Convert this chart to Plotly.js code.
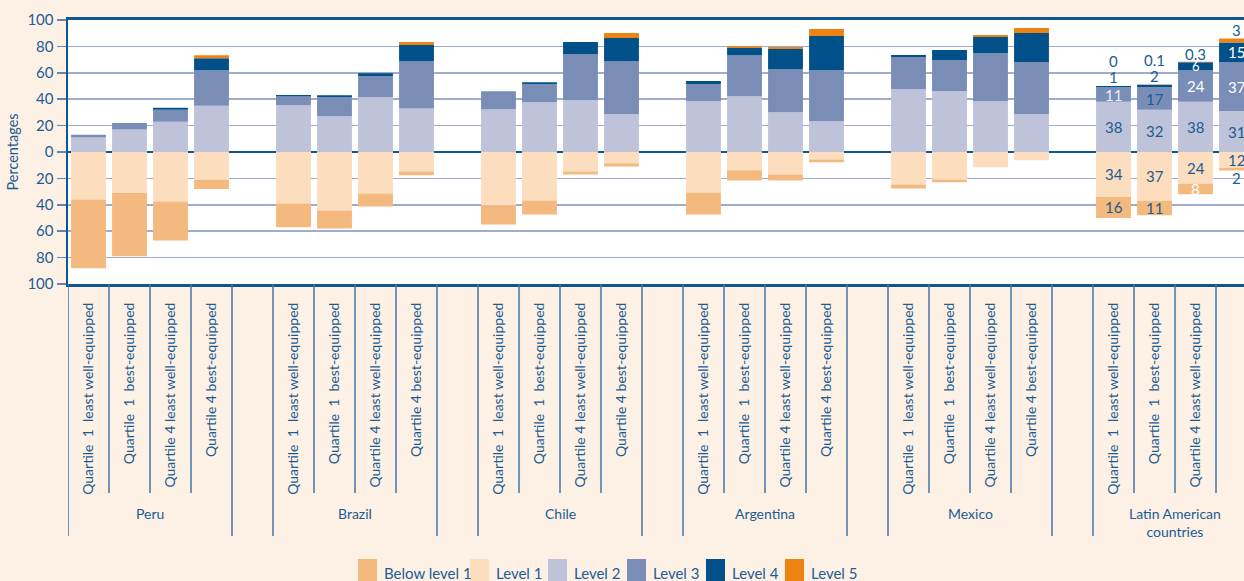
<!DOCTYPE html>
<html><head><meta charset="utf-8">
<script src="https://cdn.plot.ly/plotly-3.0.1.min.js"></script>
<style>html,body{margin:0;padding:0;background:#FDF1E6;overflow:hidden}</style>
</head><body><div id="chart" style="width:1244px;height:581px"></div>
<script>
// ---------------- DATA ----------------
const countries = ['Peru', 'Brazil', 'Chile', 'Argentina', 'Mexico', 'Latin American<br>countries'];
const quartiles = ['Quartile  1  least well-equipped', 'Quartile  1  best-equipped',
                   'Quartile 4 least well-equipped', 'Quartile 4 best-equipped'];
const levels = ['Below level 1', 'Level 1', 'Level 2', 'Level 3', 'Level 4', 'Level 5'];
// one value per bar: Peru(4), Brazil(4), Chile(4), Argentina(4), Mexico(4), Latin America(4)
const belowLevel1 = [52, 48, 29.6, 7,   18, 13.7, 9.9, 3,   14.4, 10.6, 2.3, 2.3,   16.7, 7.6, 4.5, 2.2,   3, 2.2, 0, 0,     16, 11, 8, 2];
const level1      = [36, 31, 37.5, 21,  39, 44.3, 31.4, 14.7, 40.5, 36.7, 14.7, 8.6, 30.6, 13.9, 17, 5.6,  24.6, 20.8, 11.6, 6.3, 34, 37, 24, 12];
const level2      = [11, 17, 23, 35,    35.5, 27, 41.5, 33,  32.4, 37.7, 39.2, 28.6, 38.5, 42.3, 30.1, 23.3, 47.6, 46.1, 38.5, 28.6, 38, 32, 38, 31];
const level3      = [2, 5, 9, 27,       6.5, 14.7, 16, 36,   13.7, 13.7, 35, 40.3,  12.9, 31.1, 32.7, 38.7, 24.3, 23.5, 36.4, 39.5, 11, 17, 24, 37];
const level4      = [0, 0, 1.5, 9,      1.2, 1.3, 2.2, 12,   0, 1.5, 9.1, 17.4,    2.3, 5.3, 15.2, 25.8, 1.5, 7.6, 12.2, 22,   1, 2, 6, 15];
const level5      = [0, 0, 0, 2.3,      0, 0, 0, 2.3,        0, 0, 0, 3.8,         0, 1.5, 1.5, 5.4,    0, 0, 1.5, 3.8,      0, 0.1, 0.3, 3];
const yTickVals = [-100, -80, -60, -40, -20, 0, 20, 40, 60, 80, 100];
const yTickText = ['100', '80', '60', '40', '20', '0', '20', '40', '60', '80', '100'];

// ---------------- STYLE ----------------
const colors = ['#F4B97F', '#FCDDBE', '#BEC3D9', '#7A8DB6', '#01508A', '#EC8312'];
const blue = '#1B5C93';
const axisBlue = '#0E5791';
const font = 'Lato, "Open Sans", sans-serif';
const W = 1244, H = 581, ML = 68, MT = 20, PB = 284;   // plot area pixels
const slot = 41;                                       // px per category slot
const plotW = W - ML, plotH = PB - MT;
const px2x = px => (px - ML) / plotW;
const px2y = py => (PB - py) / plotH;

// x positions: 4 bars per country, then an empty slot
const xs = [];
countries.forEach((c, g) => quartiles.forEach((q, i) => xs.push(g * 5 + i)));
const tickText = [];
countries.forEach(() => quartiles.forEach(q => tickText.push(q)));

const series = [level1.map(v => -v), belowLevel1.map(v => -v), level2, level3, level4, level5];
const order = [1, 0, 2, 3, 4, 5];
const traces = series.map((vals, k) => ({
  type: 'bar', x: xs, y: vals, name: levels[order[k]], width: 0.85,
  marker: {color: colors[order[k]], line: {width: 0}},
  hoverinfo: 'skip', showlegend: false
}));

// ---------------- SHAPES: dividers below axis ----------------
const shapes = [];
countries.forEach((c, g) => {
  const b = g * 5;
  [b - 0.5, b + 3.5].forEach(xv => shapes.push({type: 'line', xref: 'x', yref: 'paper', x0: xv, x1: xv,
    y0: 0, y1: px2y(536), line: {color: '#3F74A4', width: 1.5}}));
  [b + 0.5, b + 1.5, b + 2.5].forEach(xv => shapes.push({type: 'line', xref: 'x', yref: 'paper', x0: xv, x1: xv,
    y0: 0, y1: px2y(493), line: {color: '#3F74A4', width: 1.5}}));
});

// ---------------- LEGEND (custom) ----------------
const legendSwatchX = [358, 470, 548, 627, 706, 785];
const annotations = [];
levels.forEach((lv, i) => {
  shapes.push({type: 'rect', xref: 'paper', yref: 'paper', x0: px2x(legendSwatchX[i]), x1: px2x(legendSwatchX[i] + 19),
    y0: px2y(559), y1: px2y(590), fillcolor: colors[i], line: {width: 0}});
  annotations.push({xref: 'paper', yref: 'paper', x: px2x(legendSwatchX[i] + 24), y: px2y(573), xanchor: 'left', yanchor: 'middle',
    text: lv, showarrow: false, font: {family: font, size: 15, color: blue}});
});

// ---------------- group labels ----------------
countries.forEach((c, g) => annotations.push({xref: 'x', yref: 'paper', x: g * 5 + 1.5, y: px2y(503),
  xanchor: 'center', yanchor: 'top', text: c, showarrow: false, font: {family: font, size: 14, color: blue}}));

// ---------------- Latin America value labels ----------------
const la = [20, 21, 22, 23];
const white = '#FFFFFF';
// colour of inside labels per level (BL1, L1, L2, L3, L4) for each LA bar
const insideColor = [
  [blue, blue, blue, '#E8ECF5', white],
  [blue, blue, blue, blue, white],
  [white, blue, blue, white, white],
  [blue, blue, blue, white, white]
];
const fmt = v => String(v);
la.forEach((idx, j) => {
  const x = xs[idx];
  const v = [belowLevel1[idx], level1[idx], level2[idx], level3[idx], level4[idx], level5[idx]];
  const addIn = (y, val, col, size) => annotations.push({xref: 'x', yref: 'y', x: x, y: y, text: fmt(val), showarrow: false,
    font: {family: font, size: size || 15, color: col}, xanchor: 'center', yanchor: 'middle'});
  const addOut = (y, val, anchor, shift) => annotations.push({xref: 'x', yref: 'y', x: x, y: y, text: fmt(val), showarrow: false,
    font: {family: font, size: 15, color: blue}, xanchor: 'center', yanchor: anchor, yshift: shift});
  addIn(-v[1] / 2, v[1], insideColor[j][1]);
  if (v[0] >= 5) addIn(-v[1] - v[0] / 2, v[0], insideColor[j][0]);
  else addOut(-v[1] - v[0], v[0], 'top', 3);
  addIn(v[2] / 2, v[2], insideColor[j][2]);
  addIn(v[2] + v[3] / 2, v[3], insideColor[j][3]);
  const top4 = v[2] + v[3] + v[4];
  if (v[4] >= 5) {
    addIn(v[2] + v[3] + v[4] / 2, v[4], insideColor[j][4], v[4] < 10 ? 13 : 15);
    addOut(top4 + v[5], v[5], 'bottom', -3);
  } else {
    addOut(top4 + v[5], v[4], 'bottom', -2);
    addOut(top4 + v[5], v[5], 'bottom', 14);
  }
});

const layout = {
  width: W, height: H,
  margin: {l: ML, r: 0, t: MT, b: H - PB, pad: 0},
  paper_bgcolor: '#FDF1E6', plot_bgcolor: '#FFFFFF',
  barmode: 'relative', showlegend: false,
  font: {family: font, color: blue},
  xaxis: {range: [-0.5, -0.5 + plotW / slot], tickvals: xs, ticktext: tickText, tickangle: -90,
    tickfont: {family: font, size: 14, color: blue}, ticks: '', ticklabelstandoff: 10,
    showgrid: false, zeroline: false, showline: true, mirror: true, linecolor: axisBlue, linewidth: 3, fixedrange: true},
  yaxis: {range: [-100, 100], tickvals: yTickVals, ticktext: yTickText, tickfont: {family: font, size: 15, color: blue},
    ticks: 'outside', ticklen: 9, tickwidth: 1.5, tickcolor: '#5F86B0',
    showgrid: true, gridcolor: '#A0ACCB', gridwidth: 1.5, zeroline: true, zerolinecolor: axisBlue, zerolinewidth: 2,
    showline: true, linecolor: axisBlue, linewidth: 2.5,
    title: {text: 'Percentages', font: {family: font, size: 14.5, color: blue}, standoff: 6}},
  shapes: shapes, annotations: annotations
};
Plotly.newPlot('chart', traces, layout, {staticPlot: true});
</script></body></html>
